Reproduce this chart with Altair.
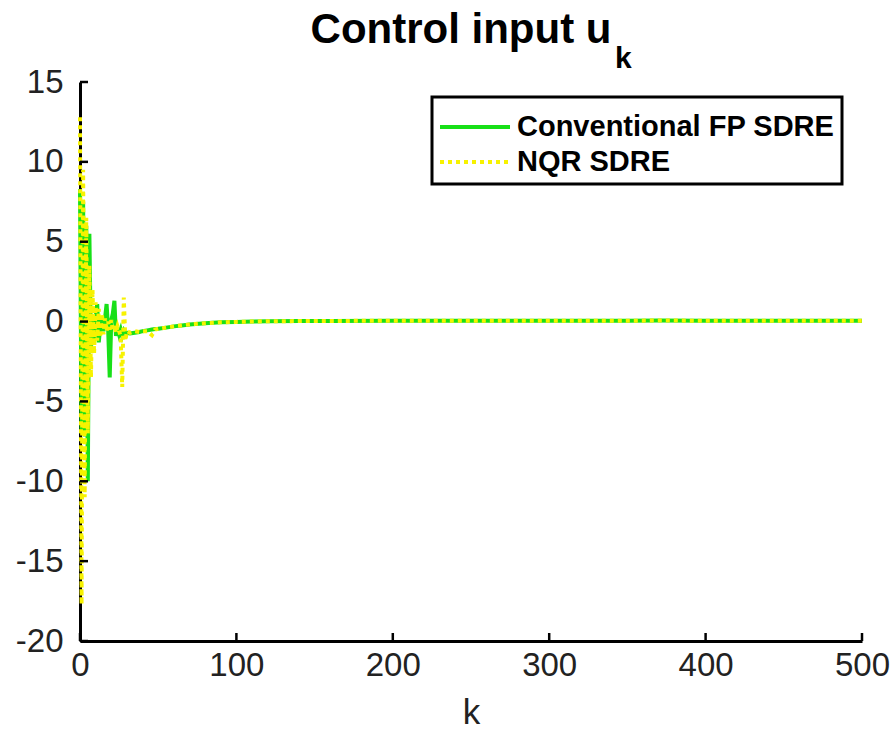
import altair as alt
import pandas as pd

# ---------------- data ----------------
k_vals = list(range(0, 31)) + [32, 35, 38, 40, 43, 46, 48, 50, 55, 60, 65, 70, 80, 90,
                               100, 110, 120, 140, 160, 200, 250, 300, 350, 370, 400, 450, 500]

conventional = [8.3, -7.0, 7.5, -7.2, 6.0, -10.0, 5.5, -1.7, 0.3, -1.2,
                0.2, 1.1, -1.3, -0.3, 0.3, -0.6, 0.2, 1.1, -0.5, -3.5,
                0.1, 0.5, 1.3, -0.9, -0.4, -0.8, -0.5, -0.9, -0.6, -0.8,
                -0.7,
                -0.75, -0.7, -0.65, -0.6, -0.55, -0.5, -0.47, -0.45, -0.38, -0.3,
                -0.24, -0.18, -0.1, -0.05, -0.02, 0.0, 0.02, 0.03, 0.04, 0.05,
                0.05, 0.05, 0.05, 0.06, 0.05, 0.05, 0.05]

nqr = [12.8, -17.7, 9.5, -11.0, 6.5, -7.0, 3.5, -3.5, 2.0, -2.0,
       1.2, -1.2, 0.8, -1.0, 0.5, -0.8, 0.2, -0.6, 0.0, -0.5,
       0.1, -0.6, -0.2, -0.7, -0.3, -0.6, -0.9, -4.1, 1.5, -1.2,
       -0.6,
       -0.7, -0.6, -0.65, -0.6, -0.6, -0.85, -0.5, -0.45, -0.38, -0.3,
       -0.24, -0.18, -0.1, -0.05, -0.02, 0.0, 0.02, 0.03, 0.04, 0.05,
       0.05, 0.05, 0.05, 0.07, 0.05, 0.05, 0.05]

series_names = ["Conventional FP SDRE", "NQR SDRE"]
x_ticks = [0, 100, 200, 300, 400, 500]
y_ticks = [-20, -15, -10, -5, 0, 5, 10, 15]
title_main = ["Control input u"]
title_sub = ["k"]
x_title = "k"

# ---------------- styles ----------------
FONT = "Liberation Sans"
GREEN = "#18e018"
YELLOW = "#f7f200"
DOT = [4, 4]
W, H = 782, 559
TICK = 8

n = len(k_vals)
df = pd.DataFrame({
    "k": k_vals + k_vals,
    "u": conventional + nqr,
    "series": [series_names[0]] * n + [series_names[1]] * n,
})

x_scale = alt.Scale(domain=[0, 500], nice=False, zero=False)
y_scale = alt.Scale(domain=[-20, 15], nice=False, zero=False)

base = alt.Chart(df).encode(
    x=alt.X("k:Q", title=x_title, scale=x_scale,
            axis=alt.Axis(values=x_ticks, labelExpr="datum.value + ''", ticks=False,
                          labelFlush=False, labelPadding=8, titlePadding=13)),
    y=alt.Y("u:Q", title=None, scale=y_scale,
            axis=alt.Axis(values=y_ticks, labelExpr="datum.value + ''", ticks=False,
                          labelFlush=False, labelPadding=17)),
)

green = base.mark_line(strokeWidth=4, color=GREEN).transform_filter(
    alt.datum.series == series_names[0])
yellow = base.mark_line(strokeWidth=4, color=YELLOW, strokeDash=DOT).transform_filter(
    alt.datum.series == series_names[1])

# inward-pointing tick marks (MATLAB style)
xtick_layer = alt.Chart(pd.DataFrame({"k": x_ticks})).mark_rule(
    color="black", strokeWidth=2.5).encode(
    x=alt.X("k:Q", title=x_title, scale=x_scale),
    y=alt.value(H), y2=alt.value(H - TICK))
ytick_layer = alt.Chart(pd.DataFrame({"u": y_ticks})).mark_rule(
    color="black", strokeWidth=2.5).encode(
    y=alt.Y("u:Q", title=None, scale=y_scale),
    x=alt.value(0), x2=alt.value(TICK))

# title (with subscript k)
t_main = alt.Chart(pd.DataFrame({"t": title_main})).mark_text(
    font=FONT, fontSize=42, fontWeight="bold", align="center",
    baseline="alphabetic", color="black",
).encode(text="t:N", x=alt.value(381), y=alt.value(-39))

t_sub = alt.Chart(pd.DataFrame({"t": title_sub})).mark_text(
    font=FONT, fontSize=30, fontWeight="bold", align="left",
    baseline="alphabetic", color="black",
).encode(text="t:N", x=alt.value(535), y=alt.value(-14))

# legend (drawn by hand, MATLAB style)
leg_df = pd.DataFrame({"name": series_names})
leg_box = alt.Chart(pd.DataFrame({"name": ["box"]})).mark_rect(
    fill="white", stroke="black", strokeWidth=3,
).encode(x=alt.value(352), x2=alt.value(762), y=alt.value(15), y2=alt.value(102))

leg_sym1 = alt.Chart(leg_df.iloc[[0]]).mark_rule(color=GREEN, strokeWidth=4).encode(
    x=alt.value(360), x2=alt.value(430), y=alt.value(45))
leg_sym2 = alt.Chart(leg_df.iloc[[1]]).mark_rule(color=YELLOW, strokeWidth=4, strokeDash=DOT).encode(
    x=alt.value(360), x2=alt.value(430), y=alt.value(80))

leg_txt1 = alt.Chart(leg_df.iloc[[0]]).mark_text(
    font=FONT, fontSize=29, fontWeight="bold", align="left", baseline="middle", color="black",
).encode(text="name:N", x=alt.value(437), y=alt.value(45))
leg_txt2 = alt.Chart(leg_df.iloc[[1]]).mark_text(
    font=FONT, fontSize=29, fontWeight="bold", align="left", baseline="middle", color="black",
).encode(text="name:N", x=alt.value(437), y=alt.value(80))

chart = alt.layer(
    green, yellow, xtick_layer, ytick_layer, t_main, t_sub,
    leg_box, leg_sym1, leg_sym2, leg_txt1, leg_txt2
).properties(
    width=W, height=H,
    autosize=alt.AutoSizeParams(type="none"),
    padding={"left": 80, "top": 82, "right": 32, "bottom": 103},
    background="white",
).configure_view(stroke=None).configure_axis(
    grid=False, domainColor="black", domainWidth=3,
    labelFont=FONT, labelFontSize=33, labelColor="#222222",
    titleFont=FONT, titleFontSize=35, titleFontWeight="normal", titleColor="#222222",
)

chart.save("out.html", embed_options={"renderer": "svg", "actions": False})
